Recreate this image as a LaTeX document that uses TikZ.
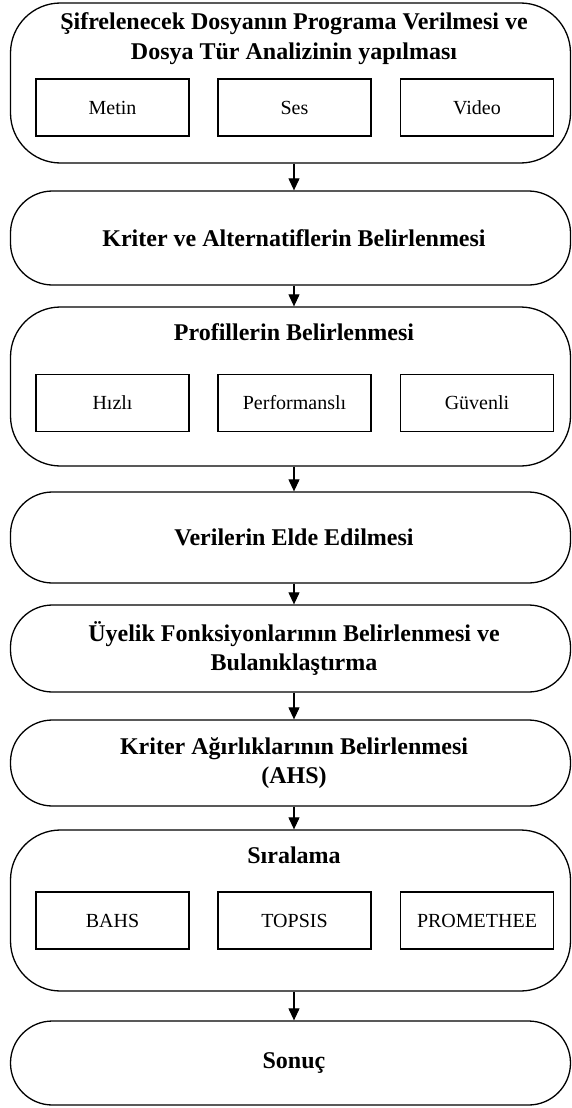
\documentclass[tikz,border=0pt]{standalone}
\usepackage{fontspec}
\setmainfont{Liberation Serif}
\usetikzlibrary{arrows.meta}
\begin{document}
\begin{tikzpicture}[x=1pt,y=-1pt,
  outer/.style={draw, line width=1.3pt, rounded corners=42pt, minimum width=560pt, inner sep=0pt},
  tallouter/.style={outer, rounded corners=50pt},
  innerbox/.style={draw, line width=1.1pt, minimum width=153pt, minimum height=57pt, inner sep=0pt, font=\fontsize{20}{24}\selectfont},
  ttl/.style={font=\fontsize{24}{29}\selectfont\bfseries, align=center, inner sep=0pt},
  arr/.style={line width=1.1pt, -{Triangle[length=12pt,width=11pt]}}]
\useasboundingbox (0,0) rectangle (572,1108);
% Box 1
\node[tallouter, minimum height=160pt] (b1) at (290.5,83) {};
\node[ttl, font=\fontsize{24}{30}\selectfont\bfseries] (t1) at (294,39) {Şifrelenecek Dosyanın Programa Verilmesi ve\\Dosya Tür Analizinin yapılması};
\node[innerbox] (m1) at (112.5,107.5) {Metin};
\node[innerbox] (m2) at (294.5,107.5) {Ses};
\node[innerbox] (m3) at (477,107.5) {Video};
% Box 2
\node[outer, minimum height=94pt] (b2) at (290.5,238) {};
\node[ttl] (t2) at (294,238) {Kriter ve Alternatiflerin Belirlenmesi};
% Box 3
\node[tallouter, minimum height=159pt] (b3) at (290.5,386.5) {};
\node[ttl] (t3) at (294,332) {Profillerin Belirlenmesi};
\node[innerbox] (p1) at (112.5,403) {Hızlı};
\node[innerbox] (p2) at (294.5,403) {Performanslı};
\node[innerbox] (p3) at (477,403) {Güvenli};
% Box 4
\node[outer, minimum height=91pt] (b4) at (290.5,537.5) {};
\node[ttl] (t4) at (294,537.5) {Verilerin Elde Edilmesi};
% Box 5
\node[outer, minimum height=87pt] (b5) at (290.5,648.5) {};
\node[ttl] (t5) at (294,648.5) {Üyelik Fonksiyonlarının Belirlenmesi ve\\Bulanıklaştırma};
% Box 6
\node[outer, minimum height=86pt] (b6) at (290.5,763) {};
\node[ttl] (t6) at (294,763) {Kriter Ağırlıklarının Belirlenmesi\\(AHS)};
% Box 7
\node[tallouter, minimum height=161pt] (b7) at (290.5,910.5) {};
\node[ttl] (t7) at (294,855) {Sıralama};
\node[innerbox] (s1) at (112.5,920.5) {BAHS};
\node[innerbox] (s2) at (294.5,920.5) {TOPSIS};
\node[innerbox] (s3) at (477,920.5) {PROMETHEE};
% Box 8
\node[outer, minimum height=84pt] (b8) at (290.5,1063) {};
\node[ttl] (t8) at (294,1063) {Sonuç};
% Arrows
\foreach \a/\b in {b1/b2,b2/b3,b3/b4,b4/b5,b5/b6,b6/b7,b7/b8}
  \draw[arr] ([xshift=3.5pt]\a.south) -- ([xshift=3.5pt]\b.north);
\end{tikzpicture}
\end{document}
